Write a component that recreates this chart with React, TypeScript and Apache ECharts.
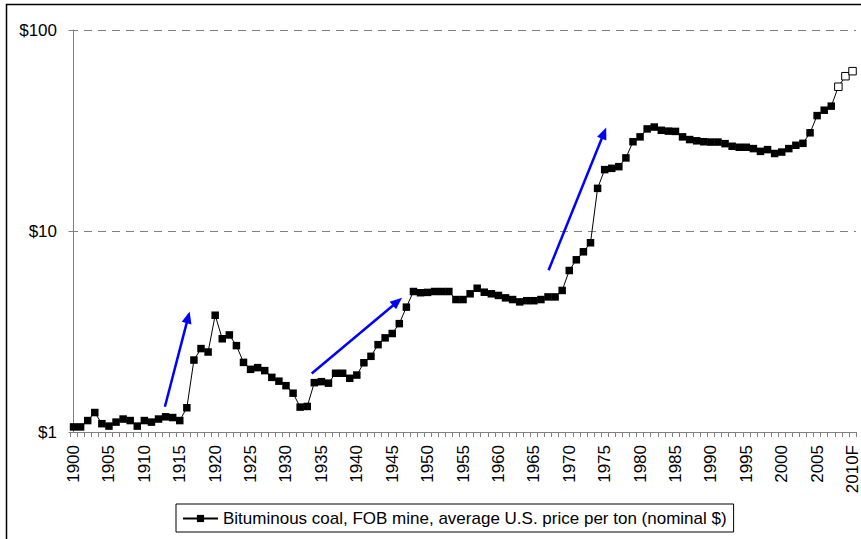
import React, { useEffect, useRef } from "react";
import * as echarts from "echarts";

const categories: string[] = [
  "1900", "1901", "1902", "1903", "1904", "1905", "1906", "1907", "1908", "1909",
  "1910", "1911", "1912", "1913", "1914", "1915", "1916", "1917", "1918", "1919",
  "1920", "1921", "1922", "1923", "1924", "1925", "1926", "1927", "1928", "1929",
  "1930", "1931", "1932", "1933", "1934", "1935", "1936", "1937", "1938", "1939",
  "1940", "1941", "1942", "1943", "1944", "1945", "1946", "1947", "1948", "1949",
  "1950", "1951", "1952", "1953", "1954", "1955", "1956", "1957", "1958", "1959",
  "1960", "1961", "1962", "1963", "1964", "1965", "1966", "1967", "1968", "1969",
  "1970", "1971", "1972", "1973", "1974", "1975", "1976", "1977", "1978", "1979",
  "1980", "1981", "1982", "1983", "1984", "1985", "1986", "1987", "1988", "1989",
  "1990", "1991", "1992", "1993", "1994", "1995", "1996", "1997", "1998", "1999",
  "2000", "2001", "2002", "2003", "2004", "2005", "2006", "2007", "2008", "2009",
  "2010F",
];

const coalPrice: number[] = [
  1.06, 1.06, 1.14, 1.25, 1.1, 1.07, 1.12, 1.16, 1.14, 1.07,
  1.14, 1.12, 1.16, 1.19, 1.18, 1.14, 1.32, 2.28, 2.6, 2.5,
  3.81, 2.91, 3.04, 2.69, 2.22, 2.05, 2.09, 2.02, 1.87, 1.79,
  1.7, 1.56, 1.33, 1.34, 1.76, 1.78, 1.75, 1.96, 1.96, 1.85,
  1.92, 2.21, 2.38, 2.72, 2.94, 3.09, 3.46, 4.18, 5.0, 4.93,
  4.95, 5.0, 5.0, 5.0, 4.56, 4.56, 4.87, 5.19, 4.96, 4.87,
  4.78, 4.65, 4.56, 4.44, 4.5, 4.5, 4.56, 4.7, 4.7, 5.06,
  6.36, 7.19, 7.88, 8.74, 16.3, 20.2, 20.5, 20.9, 23.1, 27.8,
  29.4, 32.2, 32.9, 31.7, 31.4, 31.3, 29.4, 28.5, 28.1, 27.8,
  27.7, 27.7, 27.2, 26.4, 26.1, 26.1, 25.7, 24.9, 25.4, 24.3,
  24.7, 25.7, 26.7, 27.3, 30.8, 37.5, 39.9, 41.8, 52.2, 58.9,
  62.4,
];

// years drawn with hollow markers (estimates / forecast)
const estimatedYears: string[] = ["2008", "2009", "2010F"];

const yTicks: number[] = [1, 10, 100];

// arrows: [startIndex, startValue, endIndex, endValue] in category-index / price space
const arrows: number[][] = [
  [12.9, 1.335, 16.18, 3.72],
  [33.63, 1.955, 45.74, 4.45],
  [67.08, 6.38, 74.9, 30.7],
];

const seriesName = "Bituminous coal, FOB mine, average U.S. price per ton (nominal $)";
const FONT = "'Liberation Sans', Arial, sans-serif";

export default function App() {
  const ref = useRef<HTMLDivElement>(null);

  useEffect(() => {
    document.body.style.margin = "0";
    if (!ref.current) return;
    const chart = echarts.init(ref.current, undefined, { renderer: "svg" });

    const seriesData = coalPrice.map((v, i) =>
      estimatedYears.includes(categories[i])
        ? { value: v, itemStyle: { color: "#ffffff", borderColor: "#000000", borderWidth: 1 } }
        : { value: v }
    );

    chart.setOption({
      animation: false,
      backgroundColor: "#ffffff",
      textStyle: { fontFamily: FONT },
      graphic: [
        {
          type: "rect",
          shape: { x: 6.5, y: 4.5, width: 1000, height: 1000 },
          style: { fill: "none", stroke: "#000000", lineWidth: 1.5 },
          silent: true,
          z: 100,
        },
      ],
      grid: { left: 70, right: 0, top: 30, bottom: 107 },
      legend: {
        data: [seriesName],
        left: 176,
        top: 504,
        padding: [6, 7, 5, 6],
        borderColor: "#000000",
        borderWidth: 1,
        itemWidth: 35,
        itemHeight: 9,
        textStyle: { fontSize: 17, color: "#000000", fontFamily: FONT },
      },
      xAxis: [
        {
          type: "category",
          data: categories,
          boundaryGap: true,
          axisLine: { show: true, lineStyle: { color: "#808080", width: 1 } },
          axisTick: { show: true, interval: 0, length: 5, lineStyle: { color: "#808080" } },
          axisLabel: {
            interval: 4,
            rotate: 90,
            margin: 13,
            fontSize: 17,
            color: "#000000",
            fontFamily: FONT,
          },
          splitLine: { show: false },
        },
        {
          type: "value",
          min: -0.5,
          max: categories.length - 0.5,
          show: false,
        },
      ],
      yAxis: {
        type: "log",
        logBase: 10,
        min: yTicks[0],
        max: yTicks[yTicks.length - 1],
        axisLine: { show: true, lineStyle: { color: "#808080", width: 1 } },
        axisTick: { show: true, length: 5, lineStyle: { color: "#808080" } },
        axisLabel: {
          formatter: (v: number) => "$" + v,
          fontSize: 17,
          color: "#000000",
          margin: 13,
          fontFamily: FONT,
        },
        splitLine: { show: true, lineStyle: { color: "#808080", type: [8, 6], width: 1 } },
        minorTick: { show: false },
      },
      series: [
        {
          name: seriesName,
          type: "line",
          data: seriesData,
          symbol: "rect",
          symbolSize: 7.5,
          showAllSymbol: true,
          itemStyle: { color: "#000000" },
          lineStyle: { color: "#000000", width: 1 },
          z: 3,
        },
        {
          name: "arrows",
          type: "line",
          xAxisIndex: 1,
          yAxisIndex: 0,
          data: [[0, 1]],
          symbol: "none",
          lineStyle: { width: 0, opacity: 0 },
          silent: true,
          z: 4,
          markLine: {
            silent: true,
            symbol: ["none", "triangle"],
            symbolSize: [10, 12],
            label: { show: false },
            lineStyle: { color: "#0000ff", width: 2.5, type: "solid" },
            emphasis: { disabled: true },
            data: arrows.map((a) => [
              { coord: [a[0], a[1]] },
              { coord: [a[2], a[3]] },
            ]),
          },
        },
      ],
    });

    return () => chart.dispose();
  }, []);

  return <div ref={ref} style={{ width: 861, height: 539 }} />;
}
